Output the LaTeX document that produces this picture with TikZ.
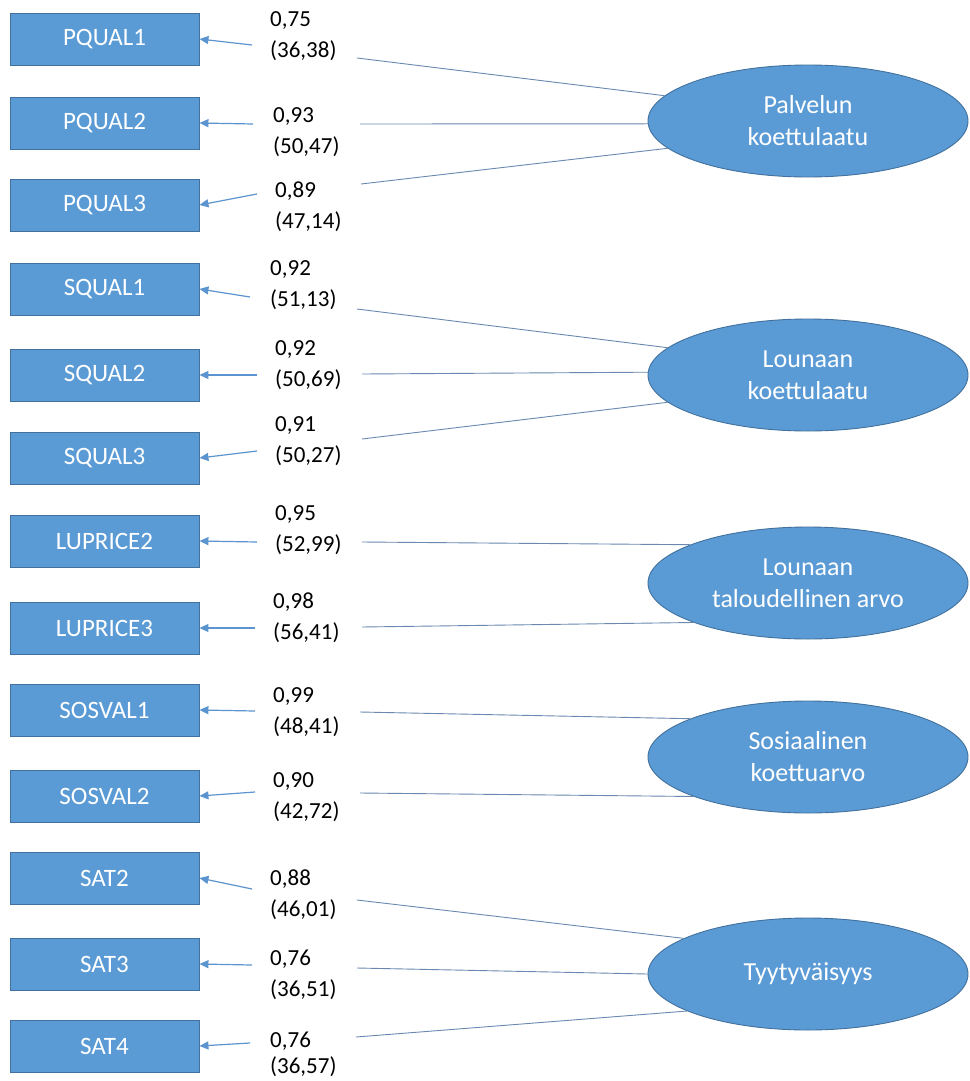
\documentclass[tikz,border=0pt]{standalone}
\usepackage{fontspec}
\setmainfont{Carlito}
\usetikzlibrary{shapes.geometric,arrows.meta}
\definecolor{boxblue}{HTML}{5B9BD5}
\definecolor{boxedge}{HTML}{41719C}
\definecolor{lnkc}{HTML}{6A88B0}
\definecolor{arrc}{HTML}{5B94CF}
\begin{document}
\begin{tikzpicture}[x=1pt,y=-1pt,
  ind/.style={draw=boxedge, line width=0.9pt, fill=boxblue, minimum width=189pt, minimum height=52pt, inner sep=0pt, text=white, font=\fontsize{25}{30}\selectfont},
  lat/.style={ellipse, draw=boxedge, line width=0.9pt, fill=boxblue, minimum width=320pt, minimum height=112pt, inner sep=0pt, text=white, align=center, font=\fontsize{26}{32}\selectfont},
  lab/.style={anchor=north west, inner sep=0pt, align=left, font=\fontsize{23}{31}\selectfont},
  lnk/.style={draw=lnkc, line width=0.9pt},
  arr/.style={draw=arrc, line width=1.2pt, -{Triangle[length=9pt,width=8pt]}}]
\useasboundingbox (0,0) rectangle (969,1081);
\fill[white] (0,0) rectangle (969,1081);
% indicator boxes
\node[ind] (b1) at (104.5,39) {PQUAL1};
\node[ind] (b2) at (104.5,123) {PQUAL2};
\node[ind] (b3) at (104.5,205) {PQUAL3};
\node[ind] (b4) at (104.5,289) {SQUAL1};
\node[ind] (b5) at (104.5,375) {SQUAL2};
\node[ind] (b6) at (104.5,458) {SQUAL3};
\node[ind] (b7) at (104.5,541) {LUPRICE2};
\node[ind] (b8) at (104.5,628) {LUPRICE3};
\node[ind] (b9) at (104.5,710) {SOSVAL1};
\node[ind] (b10) at (104.5,796) {SOSVAL2};
\node[ind] (b11) at (104.5,878) {SAT2};
\node[ind] (b12) at (104.5,964) {SAT3};
\node[ind] (b13) at (104.5,1046) {SAT4};
% latent ellipses
\node[lat] (e1) at (808,121) {Palvelun\\koettulaatu};
\node[lat] (e2) at (808,375) {Lounaan\\koettulaatu};
\node[lat] (e3) at (808,583) {Lounaan\\taloudellinen arvo};
\node[lat] (e4) at (808,757) {Sosiaalinen\\koettuarvo};
\node[lat] (e5) at (808,974) {Tyytyväisyys};
% labels
\node[lab] (l1) at (270,11) {0,75\\(36,38)};
\node[lab] (l2) at (273,107) {0,93\\(50,47)};
\node[lab] (l3) at (275,182) {0,89\\(47,14)};
\node[lab] (l4) at (270,260) {0,92\\(51,13)};
\node[lab] (l5) at (275,340) {0,92\\(50,69)};
\node[lab] (l6) at (275,416) {0,91\\(50,27)};
\node[lab] (l7) at (275,505) {0,95\\(52,99)};
\node[lab] (l8) at (273,593) {0,98\\(56,41)};
\node[lab] (l9) at (273,687) {0,99\\(48,41)};
\node[lab] (l10) at (273,772) {0,90\\(42,72)};
\node[lab] (l11) at (270,870) {0,88\\(46,01)};
\node[lab] (l12) at (270,950) {0,76\\(36,51)};
\node[lab, font=\fontsize{23}{26}\selectfont] (l13) at (270,1032) {0,76\\(36,57)};
% connector end points beside the labels
\coordinate (q1) at (252,45);   \coordinate (p1) at (357,58);
\coordinate (q2) at (253,124);  \coordinate (p2) at (360,124);
\coordinate (q3) at (257,194);  \coordinate (p3) at (361,184);
\coordinate (q4) at (250,297);  \coordinate (p4) at (357,309);
\coordinate (q5) at (257,375);  \coordinate (p5) at (362,374);
\coordinate (q6) at (257,451);  \coordinate (p6) at (362,439);
\coordinate (q7) at (257,542);  \coordinate (p7) at (362,542);
\coordinate (q8) at (255,628);  \coordinate (p8) at (362,627);
\coordinate (q9) at (255,711);  \coordinate (p9) at (360,712);
\coordinate (q10) at (255,792); \coordinate (p10) at (360,793);
\coordinate (q11) at (252,889); \coordinate (p11) at (357,900);
\coordinate (q12) at (252,965); \coordinate (p12) at (357,968);
\coordinate (q13) at (250,1043);\coordinate (p13) at (356,1037);
% lines from the latent variables
\draw[lnk] (e1.170) -- (p1);
\draw[lnk] (e1.181) -- (p2);
\draw[lnk] (e1.191) -- (p3);
\draw[lnk] (e2.169) -- (p4);
\draw[lnk] (e2.179) -- (p5);
\draw[lnk] (e2.191) -- (p6);
\draw[lnk] (e3.162) -- (p7);
\draw[lnk] (e3.199) -- (p8);
\draw[lnk] (e4.162) -- (p9);
\draw[lnk] (e4.199) -- (p10);
\draw[lnk] (e5.164) -- (p11);
\draw[lnk] (e5.180) -- (p12);
\draw[lnk] (e5.197) -- (p13);
% arrows to the indicators
\draw[arr] (q1) -- (b1.east);
\draw[arr] (q2) -- (b2.east);
\draw[arr] (q3) -- (b3.east);
\draw[arr] (q4) -- (b4.east);
\draw[arr] (q5) -- (b5.east);
\draw[arr] (q6) -- (b6.east);
\draw[arr] (q7) -- (b7.east);
\draw[arr] (q8) -- (b8.east);
\draw[arr] (q9) -- (b9.east);
\draw[arr] (q10) -- (b10.east);
\draw[arr] (q11) -- (b11.east);
\draw[arr] (q12) -- (b12.east);
\draw[arr] (q13) -- (b13.east);
\end{tikzpicture}
\end{document}
